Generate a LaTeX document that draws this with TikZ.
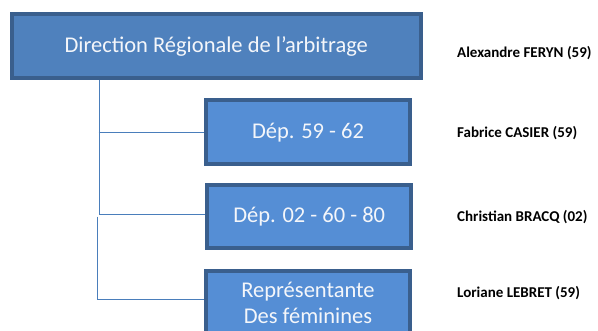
\documentclass[tikz,border=0pt]{standalone}
\usepackage{fontspec}
\setmainfont{Carlito}
\usetikzlibrary{backgrounds}
\definecolor{topfill}{HTML}{4F81BD}
\definecolor{boxfill}{HTML}{558ED5}
\definecolor{boxborder}{HTML}{3A5F8D}
\definecolor{linkcol}{HTML}{4A7EBB}
\definecolor{txtcol}{HTML}{F4F6FA}
\tikzset{
  x=1pt, y=-1pt,
  orgbox/.style={draw=boxborder, line width=4pt, fill=boxfill, inner sep=0pt,
    minimum width=204pt, minimum height=64pt, text=txtcol, align=center,
    font=\fontsize{22.5}{26}\selectfont},
  topbox/.style={orgbox, fill=topfill, minimum width=409.5pt, minimum height=63.5pt},
  namelbl/.style={anchor=west, inner sep=0pt, font=\bfseries\fontsize{15}{17}\selectfont},
  link/.style={draw=linkcol, line width=1pt}
}
\begin{document}
\begin{tikzpicture}
\useasboundingbox (0,0) rectangle (598,331);
\node[topbox] (b1) at (216.25,46.25) {Direction Régionale de l’arbitrage};
\node[orgbox] (b2) at (308,132.5) {Dép. 59 - 62};
\node[orgbox, minimum width=204.3pt, minimum height=63.3pt] (b3) at (309.2,216.3) {Dép. 02 - 60 - 80};
\node[orgbox] (b4) at (308,303) {Représentante\\Des féminines};
\node[namelbl] (n1) at (457,53) {Alexandre FERYN (59)};
\node[namelbl] (n2) at (457,133) {Fabrice CASIER (59)};
\node[namelbl] (n3) at (457,217) {Christian BRACQ (02)};
\node[namelbl] (n4) at (457,293) {Loriane LEBRET (59)};
\coordinate (j1) at (99,215);
\coordinate (j2) at (97.3,216.7);
\coordinate (j3) at (97.3,300);
\coordinate (j4) at (98.5,133);
\begin{scope}[on background layer]
\draw[link] (b1.south -| j1) -- (j1) -- (j1 -| b3.west);
\draw[link] (j4) -- (j4 -| b2.west);
\draw[link] (j2) -- (j3) -- (j3 -| b4.west);
\end{scope}
\end{tikzpicture}
\end{document}
